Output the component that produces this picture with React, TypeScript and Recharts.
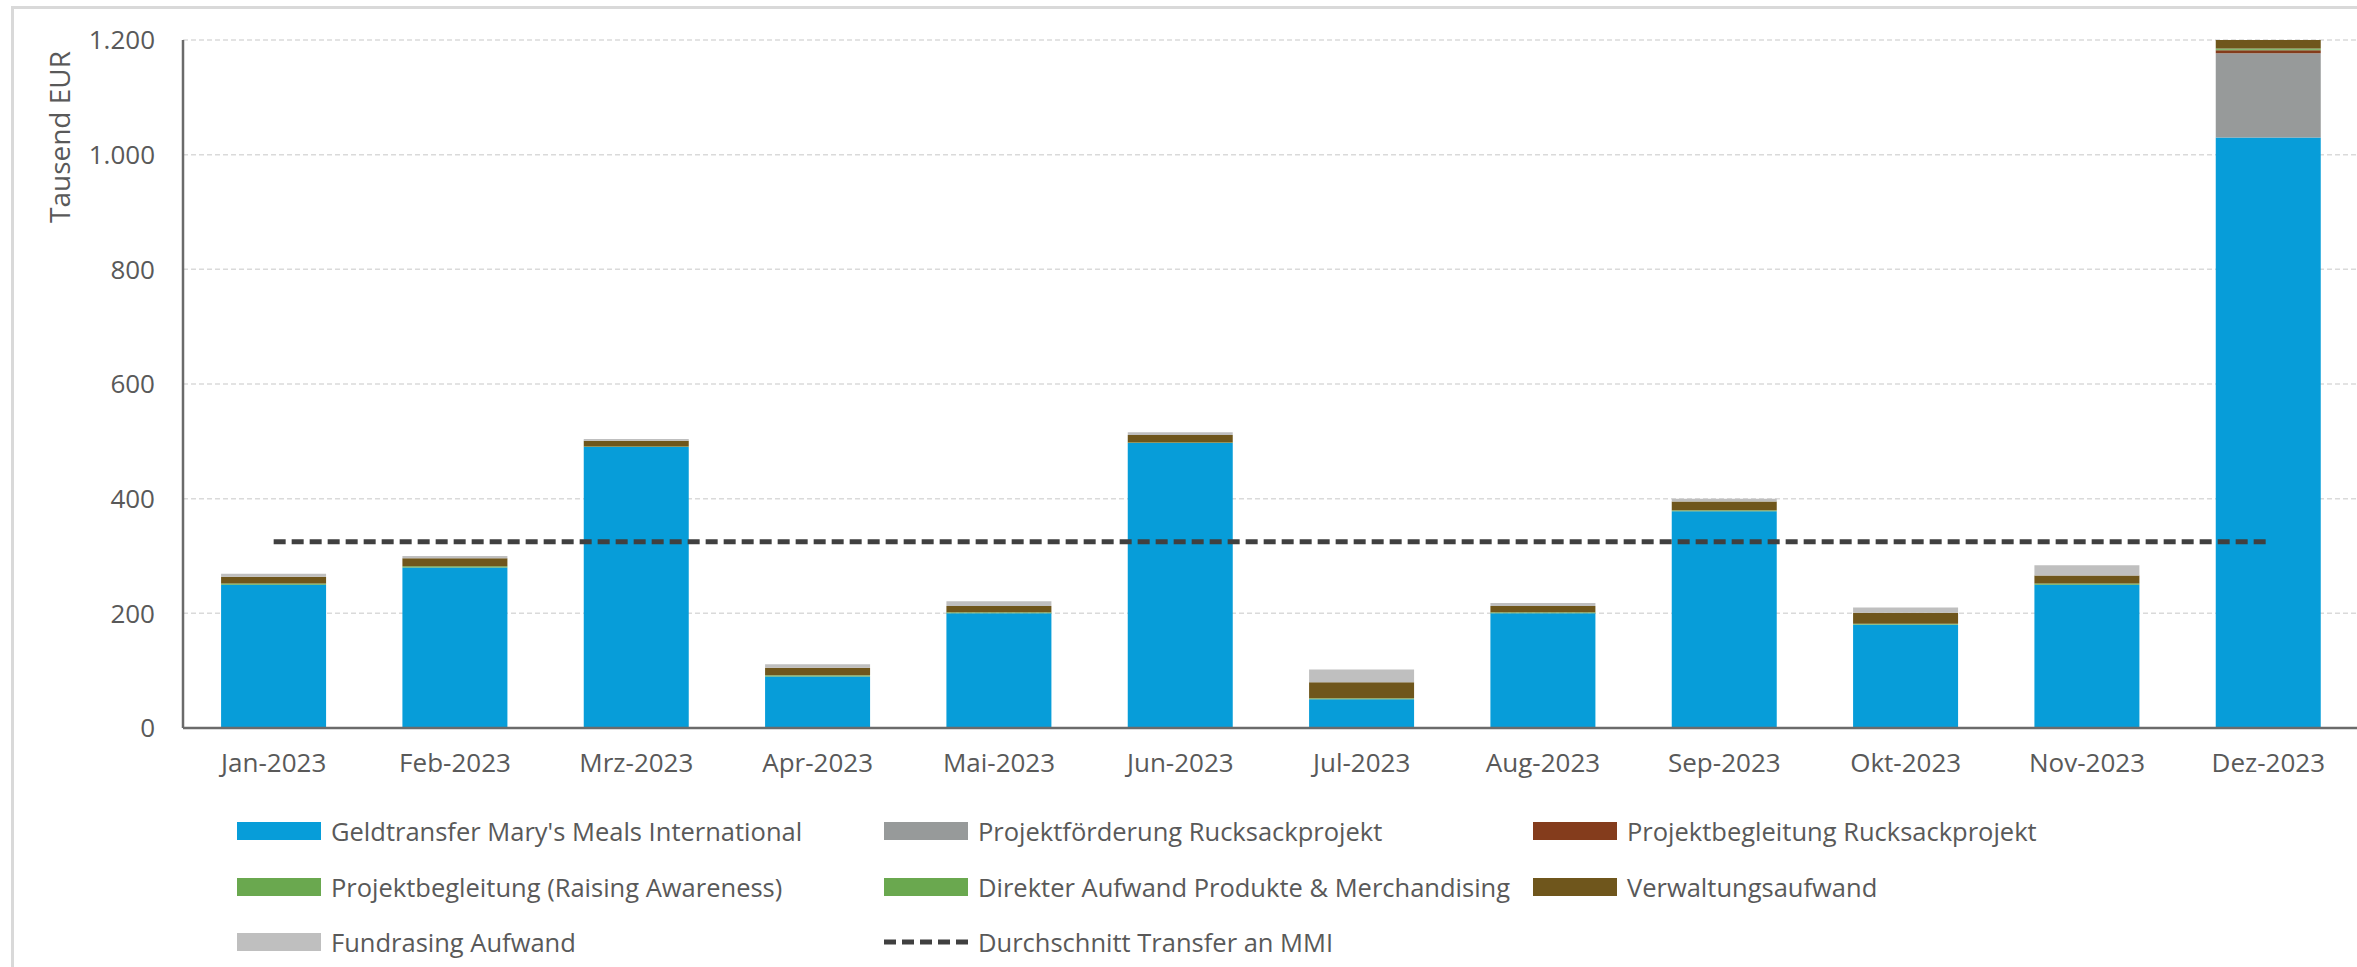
import React from "react";
import { ComposedChart, Bar, Line, XAxis, YAxis, CartesianGrid } from "recharts";

const months = [
  "Jan-2023", "Feb-2023", "Mrz-2023", "Apr-2023", "Mai-2023", "Jun-2023",
  "Jul-2023", "Aug-2023", "Sep-2023", "Okt-2023", "Nov-2023", "Dez-2023",
];

// Tausend EUR
const geldtransfer = [250, 280, 490, 90, 200, 497, 50, 200, 378, 180, 250, 1030];
const projektfoerderung = [0, 0, 0, 0, 0, 0, 0, 0, 0, 0, 0, 147];
const begleitungRucksack = [0, 0, 0, 0, 0, 0, 0, 0, 0, 0, 0, 5];
const raisingAwareness = [1, 1, 1, 1, 1, 1, 1, 1, 1, 1, 1, 2];
const direkterAufwand = [1, 1, 0, 1, 1, 0, 1, 1, 1, 1, 1, 1];
const verwaltung = [12, 14, 10, 13, 11, 13, 28, 11, 15, 19, 14, 15];
const fundraising = [5, 4, 3, 6, 8, 5, 22, 5, 5, 9, 18, 0];
const durchschnitt = [325, 325, 325, 325, 325, 325, 325, 325, 325, 325, 325, 325];

const yTicks = [0, 200, 400, 600, 800, 1000, 1200];

const data = months.map((m, i) => ({
  month: m,
  geld: geldtransfer[i],
  foerd: projektfoerderung[i],
  rucksack: begleitungRucksack[i],
  raising: raisingAwareness[i],
  direkt: direkterAufwand[i],
  verw: verwaltung[i],
  fund: fundraising[i],
  avg: durchschnitt[i],
}));

const series = [
  { key: "geld", name: "Geldtransfer Mary's Meals International", color: "#079dd9" },
  { key: "foerd", name: "Projektförderung Rucksackprojekt", color: "#979a9a" },
  { key: "rucksack", name: "Projektbegleitung Rucksackprojekt", color: "#843c1c" },
  { key: "raising", name: "Projektbegleitung (Raising Awareness)", color: "#6aa84f" },
  { key: "direkt", name: "Direkter Aufwand Produkte & Merchandising", color: "#6aa84f" },
  { key: "verw", name: "Verwaltungsaufwand", color: "#6f561c" },
  { key: "fund", name: "Fundrasing Aufwand", color: "#bfbfbf" },
];

const FONT = "'Open Sans', sans-serif";
const TEXT = "#595959";

const fmt = (v: number) => String(v).replace(/\B(?=(\d{3})+(?!\d))/g, ".");

const legendCols = [237, 884, 1533];
const legendRows = [831, 887, 942];

function YLabel(props: any) {
  const vb = props.viewBox || {};
  const x = 59;
  const y = (vb.y ?? 40) + 97;
  return (
    <text x={x} y={y} transform={`rotate(-90 ${x} ${y})`} textAnchor="middle" dominantBaseline="central"
      fill={TEXT} fontSize={28} fontFamily={FONT}>
      Tausend EUR
    </text>
  );
}

export default function App() {
  const legendItems = [
    ...series.map((s) => ({ name: s.name, color: s.color, dashed: false })),
    { name: "Durchschnitt Transfer an MMI", color: "#404040", dashed: true },
  ];

  return (
    <div style={{ position: "absolute", left: 0, top: 0, width: 2357, height: 967, overflow: "hidden", background: "#fff", fontFamily: FONT }}>
      <div style={{ position: "absolute", left: 11, top: 6, width: 2400, height: 1000, borderLeft: "3px solid #d9d9d9", borderTop: "3px solid #d9d9d9" }} />
      <ComposedChart
        width={2359}
        height={967}
        data={data}
        margin={{ top: 40, right: 0, left: 0, bottom: 179 }}
        barCategoryGap="21%"
        style={{ position: "absolute", left: 0, top: 0 }}
      >
        <CartesianGrid vertical={false} stroke="#dadada" strokeDasharray="5 3" strokeWidth={1.5} />
        <XAxis
          dataKey="month"
          height={60}
          tickSize={0}
          tickMargin={26}
          axisLine={{ stroke: "#6b6b6b", strokeWidth: 2.5 }}
          tick={{ fill: TEXT, fontSize: 26, fontFamily: FONT }}
          interval={0}
        />
        <YAxis
          width={183}
          domain={[0, 1200]}
          ticks={yTicks}
          tickFormatter={fmt}
          tickSize={0}
          tickMargin={28}
          axisLine={{ stroke: "#6b6b6b", strokeWidth: 2.5 }}
          tick={{ fill: TEXT, fontSize: 26, fontFamily: FONT }}
          label={<YLabel />}
        />
        {series.map((s) => (
          <Bar key={s.key} dataKey={s.key} name={s.name} stackId="a" fill={s.color} isAnimationActive={false} />
        ))}
        <Line
          type="linear"
          dataKey="avg"
          name="Durchschnitt Transfer an MMI"
          stroke="#404040"
          strokeWidth={5}
          strokeDasharray="12 6"
          dot={false}
          activeDot={false}
          isAnimationActive={false}
        />
      </ComposedChart>
      {legendItems.map((item, i) => {
        const col = i % 3;
        const row = Math.floor(i / 3);
        return (
          <div
            key={item.name}
            style={{
              position: "absolute",
              left: legendCols[col],
              top: legendRows[row] - 20,
              height: 40,
              display: "flex",
              alignItems: "center",
              whiteSpace: "nowrap",
              color: TEXT,
              fontSize: 25.5,
            }}
          >
            {item.dashed ? (
              <svg width={84} height={18} style={{ marginRight: 10 }}>
                <line x1={0} y1={9} x2={84} y2={9} stroke={item.color} strokeWidth={5} strokeDasharray="12 6" />
              </svg>
            ) : (
              <div style={{ width: 84, height: 18, background: item.color, marginRight: 10 }} />
            )}
            <span>{item.name}</span>
          </div>
        );
      })}
    </div>
  );
}
